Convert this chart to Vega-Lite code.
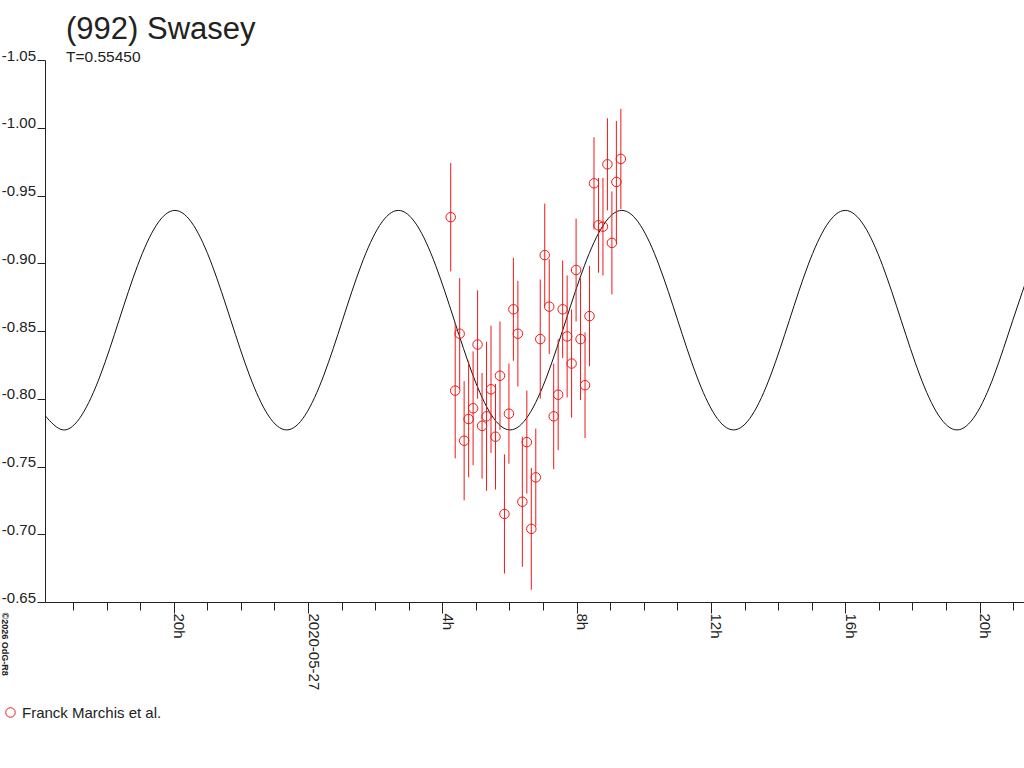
{
  "$schema": "https://vega.github.io/schema/vega-lite/v6.json",
  "description": "Lightcurve of (992) Swasey with a fitted double-peaked curve.",
  "width": 979,
  "height": 542,
  "autosize": "none",
  "padding": {"left": 45, "top": 60, "right": 0, "bottom": 166},
  "background": "white",
  "title": {
    "text": "(992) Swasey",
    "subtitle": "T=0.55450",
    "anchor": "start",
    "frame": "group",
    "dx": 21,
    "offset": -18,
    "font": "Liberation Sans",
    "fontSize": 31,
    "fontWeight": "normal",
    "color": "#222",
    "subtitleFont": "Liberation Sans",
    "subtitleFontSize": 15.5,
    "subtitleColor": "#222",
    "subtitlePadding": 3.5
  },
  "datasets": {
    "curve": [
      {"t": 1590509359800, "mag": -0.788},
      {"t": 1590511356000, "mag": -0.777},
      {"t": 1590513352200, "mag": -0.788},
      {"t": 1590515348400, "mag": -0.8175},
      {"t": 1590517344600, "mag": -0.858},
      {"t": 1590519340800, "mag": -0.8985},
      {"t": 1590521337000, "mag": -0.928},
      {"t": 1590523333200, "mag": -0.939},
      {"t": 1590525329400, "mag": -0.928},
      {"t": 1590527325600, "mag": -0.8985},
      {"t": 1590529321800, "mag": -0.858},
      {"t": 1590531318000, "mag": -0.8175},
      {"t": 1590533314200, "mag": -0.788},
      {"t": 1590535310400, "mag": -0.777},
      {"t": 1590537306600, "mag": -0.788},
      {"t": 1590539302800, "mag": -0.8175},
      {"t": 1590541299000, "mag": -0.858},
      {"t": 1590543295200, "mag": -0.8985},
      {"t": 1590545291400, "mag": -0.928},
      {"t": 1590547287600, "mag": -0.939},
      {"t": 1590549283800, "mag": -0.928},
      {"t": 1590551280000, "mag": -0.8985},
      {"t": 1590553276200, "mag": -0.858},
      {"t": 1590555272400, "mag": -0.8175},
      {"t": 1590557268600, "mag": -0.788},
      {"t": 1590559264800, "mag": -0.777},
      {"t": 1590561261000, "mag": -0.788},
      {"t": 1590563257200, "mag": -0.8175},
      {"t": 1590565253400, "mag": -0.858},
      {"t": 1590567249600, "mag": -0.8985},
      {"t": 1590569245800, "mag": -0.928},
      {"t": 1590571242000, "mag": -0.939},
      {"t": 1590573238200, "mag": -0.928},
      {"t": 1590575234400, "mag": -0.8985},
      {"t": 1590577230600, "mag": -0.858},
      {"t": 1590579226800, "mag": -0.8175},
      {"t": 1590581223000, "mag": -0.788},
      {"t": 1590583219200, "mag": -0.777},
      {"t": 1590585215400, "mag": -0.788},
      {"t": 1590587211600, "mag": -0.8175},
      {"t": 1590589207800, "mag": -0.858},
      {"t": 1590591204000, "mag": -0.8985},
      {"t": 1590593200200, "mag": -0.928},
      {"t": 1590595196400, "mag": -0.939},
      {"t": 1590597192600, "mag": -0.928},
      {"t": 1590599188800, "mag": -0.8985},
      {"t": 1590601185000, "mag": -0.858},
      {"t": 1590603181200, "mag": -0.8175},
      {"t": 1590605177400, "mag": -0.788},
      {"t": 1590607173600, "mag": -0.777},
      {"t": 1590609169800, "mag": -0.788},
      {"t": 1590611166000, "mag": -0.8175},
      {"t": 1590613162200, "mag": -0.858},
      {"t": 1590615158400, "mag": -0.8985}
    ],
    "points": [
      {"t": "2020-05-27T04:15:00Z", "mag": -0.934, "lo": -0.974, "hi": -0.894, "observer": "Franck Marchis et al."},
      {"t": "2020-05-27T04:23:00Z", "mag": -0.806, "lo": -0.856, "hi": -0.756, "observer": "Franck Marchis et al."},
      {"t": "2020-05-27T04:31:00Z", "mag": -0.848, "lo": -0.889, "hi": -0.807, "observer": "Franck Marchis et al."},
      {"t": "2020-05-27T04:39:00Z", "mag": -0.769, "lo": -0.813, "hi": -0.725, "observer": "Franck Marchis et al."},
      {"t": "2020-05-27T04:47:00Z", "mag": -0.785, "lo": -0.828, "hi": -0.742, "observer": "Franck Marchis et al."},
      {"t": "2020-05-27T04:55:00Z", "mag": -0.793, "lo": -0.835, "hi": -0.751, "observer": "Franck Marchis et al."},
      {"t": "2020-05-27T05:03:00Z", "mag": -0.840, "lo": -0.880, "hi": -0.800, "observer": "Franck Marchis et al."},
      {"t": "2020-05-27T05:11:00Z", "mag": -0.780, "lo": -0.819, "hi": -0.741, "observer": "Franck Marchis et al."},
      {"t": "2020-05-27T05:19:00Z", "mag": -0.787, "lo": -0.842, "hi": -0.732, "observer": "Franck Marchis et al."},
      {"t": "2020-05-27T05:27:00Z", "mag": -0.807, "lo": -0.854, "hi": -0.760, "observer": "Franck Marchis et al."},
      {"t": "2020-05-27T05:35:00Z", "mag": -0.772, "lo": -0.811, "hi": -0.733, "observer": "Franck Marchis et al."},
      {"t": "2020-05-27T05:43:00Z", "mag": -0.817, "lo": -0.857, "hi": -0.777, "observer": "Franck Marchis et al."},
      {"t": "2020-05-27T05:51:00Z", "mag": -0.715, "lo": -0.759, "hi": -0.671, "observer": "Franck Marchis et al."},
      {"t": "2020-05-27T05:59:00Z", "mag": -0.789, "lo": -0.826, "hi": -0.752, "observer": "Franck Marchis et al."},
      {"t": "2020-05-27T06:07:00Z", "mag": -0.866, "lo": -0.904, "hi": -0.828, "observer": "Franck Marchis et al."},
      {"t": "2020-05-27T06:15:00Z", "mag": -0.848, "lo": -0.887, "hi": -0.809, "observer": "Franck Marchis et al."},
      {"t": "2020-05-27T06:23:00Z", "mag": -0.724, "lo": -0.772, "hi": -0.676, "observer": "Franck Marchis et al."},
      {"t": "2020-05-27T06:31:00Z", "mag": -0.768, "lo": -0.806, "hi": -0.730, "observer": "Franck Marchis et al."},
      {"t": "2020-05-27T06:39:00Z", "mag": -0.704, "lo": -0.749, "hi": -0.659, "observer": "Franck Marchis et al."},
      {"t": "2020-05-27T06:47:00Z", "mag": -0.742, "lo": -0.778, "hi": -0.706, "observer": "Franck Marchis et al."},
      {"t": "2020-05-27T06:55:00Z", "mag": -0.844, "lo": -0.888, "hi": -0.800, "observer": "Franck Marchis et al."},
      {"t": "2020-05-27T07:03:00Z", "mag": -0.906, "lo": -0.944, "hi": -0.868, "observer": "Franck Marchis et al."},
      {"t": "2020-05-27T07:11:00Z", "mag": -0.868, "lo": -0.903, "hi": -0.833, "observer": "Franck Marchis et al."},
      {"t": "2020-05-27T07:19:00Z", "mag": -0.787, "lo": -0.826, "hi": -0.748, "observer": "Franck Marchis et al."},
      {"t": "2020-05-27T07:27:00Z", "mag": -0.803, "lo": -0.844, "hi": -0.762, "observer": "Franck Marchis et al."},
      {"t": "2020-05-27T07:35:00Z", "mag": -0.866, "lo": -0.902, "hi": -0.830, "observer": "Franck Marchis et al."},
      {"t": "2020-05-27T07:43:00Z", "mag": -0.846, "lo": -0.891, "hi": -0.801, "observer": "Franck Marchis et al."},
      {"t": "2020-05-27T07:51:00Z", "mag": -0.826, "lo": -0.866, "hi": -0.786, "observer": "Franck Marchis et al."},
      {"t": "2020-05-27T07:59:00Z", "mag": -0.895, "lo": -0.933, "hi": -0.857, "observer": "Franck Marchis et al."},
      {"t": "2020-05-27T08:07:00Z", "mag": -0.844, "lo": -0.889, "hi": -0.799, "observer": "Franck Marchis et al."},
      {"t": "2020-05-27T08:15:00Z", "mag": -0.810, "lo": -0.849, "hi": -0.771, "observer": "Franck Marchis et al."},
      {"t": "2020-05-27T08:23:00Z", "mag": -0.861, "lo": -0.898, "hi": -0.824, "observer": "Franck Marchis et al."},
      {"t": "2020-05-27T08:31:00Z", "mag": -0.959, "lo": -0.993, "hi": -0.925, "observer": "Franck Marchis et al."},
      {"t": "2020-05-27T08:39:00Z", "mag": -0.928, "lo": -0.963, "hi": -0.893, "observer": "Franck Marchis et al."},
      {"t": "2020-05-27T08:47:00Z", "mag": -0.927, "lo": -0.963, "hi": -0.891, "observer": "Franck Marchis et al."},
      {"t": "2020-05-27T08:55:00Z", "mag": -0.973, "lo": -1.007, "hi": -0.939, "observer": "Franck Marchis et al."},
      {"t": "2020-05-27T09:03:00Z", "mag": -0.915, "lo": -0.953, "hi": -0.877, "observer": "Franck Marchis et al."},
      {"t": "2020-05-27T09:11:00Z", "mag": -0.960, "lo": -1.005, "hi": -0.915, "observer": "Franck Marchis et al."},
      {"t": "2020-05-27T09:19:00Z", "mag": -0.977, "lo": -1.014, "hi": -0.940, "observer": "Franck Marchis et al."}
    ]
  },
  "encoding": {
    "x": {
      "field": "t",
      "type": "temporal",
      "scale": {"type": "utc", "domain": [1590509404800, 1590614359000], "nice": false},
      "axis": {
        "title": null,
        "grid": false,
        "values": [1590512400000, 1590516000000, 1590519600000, 1590523200000, 1590526800000, 1590530400000, 1590534000000, 1590537600000, 1590541200000, 1590544800000, 1590548400000, 1590552000000, 1590555600000, 1590559200000, 1590562800000, 1590566400000, 1590570000000, 1590573600000, 1590577200000, 1590580800000, 1590584400000, 1590588000000, 1590591600000, 1590595200000, 1590598800000, 1590602400000, 1590606000000, 1590609600000, 1590613200000],
        "labelExpr": "utchours(datum.value) == 0 ? utcFormat(datum.value, '%Y-%m-%d') : (utchours(datum.value) % 4 == 0 ? utchours(datum.value) + 'h' : '')",
        "tickSize": {"condition": {"test": "utchours(datum.value) % 4 == 0", "value": 11}, "value": 8},
        "labelAngle": 90,
        "labelAlign": "left",
        "labelBaseline": "alphabetic",
        "labelPadding": 0,
        "labelOverlap": false,
        "labelFlush": false,
        "labelFont": "Liberation Sans",
        "labelFontSize": 15,
        "labelColor": "#222",
        "domainColor": "#222",
        "tickColor": "#222"
      }
    },
    "y": {
      "field": "mag",
      "type": "quantitative",
      "scale": {"domain": [-1.05, -0.65], "reverse": true, "nice": false, "zero": false},
      "axis": {
        "title": "©2026 OdG-R8",
        "titleAngle": 90,
        "titleX": -41,
        "titleY": 552,
        "titleAlign": "left",
        "titleBaseline": "middle",
        "titleFont": "Liberation Sans",
        "titleFontSize": 9,
        "titleFontWeight": "bold",
        "titleColor": "#222",
        "grid": false,
        "values": [-1.05, -1.0, -0.95, -0.9, -0.85, -0.8, -0.75, -0.7, -0.65],
        "labelExpr": "replace(format(datum.value, '.2f'), '\u2212', '-')",
        "tickSize": 8,
        "labelPadding": 1.5,
        "labelBaseline": "alphabetic",
        "labelOverlap": false,
        "labelFlush": false,
        "labelFont": "Liberation Sans",
        "labelFontSize": 15,
        "labelColor": "#222",
        "domainColor": "#222",
        "tickColor": "#222"
      }
    }
  },
  "layer": [
    {
      "data": {"name": "curve"},
      "mark": {"type": "line", "interpolate": "natural", "color": "#111", "strokeWidth": 1, "clip": true}
    },
    {
      "data": {"name": "points"},
      "mark": {"type": "rule", "color": "#f01818", "strokeWidth": 1},
      "encoding": {
        "y": {"field": "lo", "type": "quantitative"},
        "y2": {"field": "hi"}
      }
    },
    {
      "data": {"name": "points"},
      "mark": {"type": "point", "shape": "circle", "filled": false, "size": 90, "strokeWidth": 1, "opacity": 1},
      "encoding": {
        "color": {
          "field": "observer",
          "type": "nominal",
          "scale": {"range": ["#f01818"]},
          "legend": {
            "title": null,
            "orient": "none",
            "legendX": -42,
            "legendY": 645,
            "symbolType": "circle",
            "symbolSize": 90,
            "symbolStrokeWidth": 1,
            "labelFont": "Liberation Sans",
            "labelFontSize": 15,
            "labelColor": "#222"
          }
        }
      }
    }
  ],
  "config": {
    "view": {"stroke": null}
  }
}
